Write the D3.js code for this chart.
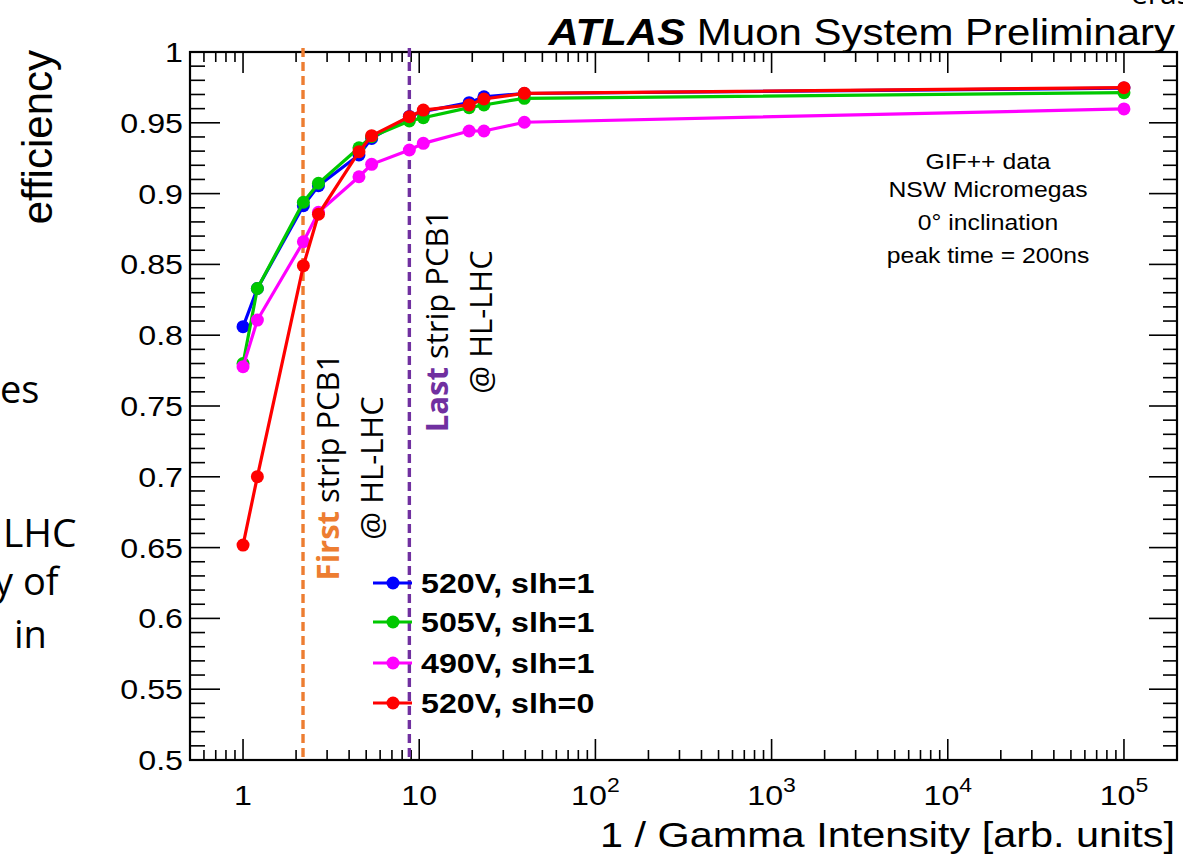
<!DOCTYPE html>
<html>
<head>
<meta charset="utf-8">
<script src="https://cdn.jsdelivr.net/npm/d3@7"></script>
<style>
  html, body { margin: 0; padding: 0; background: #fff; }
  svg { display: block; }
</style>
</head>
<body>
<script>
// Efficiency vs. 1/Gamma intensity for NSW Micromegas at GIF++
const intensity = [1, 1.206, 2.2, 2.68, 4.55, 5.37, 8.79, 10.55, 19.2, 23.3, 39.5, 1e5];
const seriesNames = ["520V, slh=1", "505V, slh=1", "490V, slh=1", "520V, slh=0"];
const seriesColors = ["#0000ff", "#00c800", "#ff00ff", "#ff0000"];
const eff520slh1 = [0.806, 0.833, 0.8915, 0.9056, 0.9273, 0.9390, 0.9545, 0.9580, 0.9642, 0.9684, 0.9707, 0.9745];
const eff505slh1 = [0.780, 0.833, 0.8939, 0.9073, 0.9324, 0.9402, 0.9513, 0.9536, 0.9607, 0.9626, 0.9673, 0.9713];
const eff490slh1 = [0.7778, 0.8107, 0.8660, 0.8868, 0.9119, 0.9207, 0.9308, 0.9355, 0.9442, 0.9442, 0.9504, 0.9598];
const eff520slh0 = [0.6518, 0.7001, 0.8491, 0.8854, 0.9296, 0.9409, 0.9543, 0.9590, 0.9626, 0.9668, 0.9708, 0.9748];
const seriesValues = [eff520slh1, eff505slh1, eff490slh1, eff520slh0];

const yTickLabels = ["0.5", "0.55", "0.6", "0.65", "0.7", "0.75", "0.8", "0.85", "0.9", "0.95", "1"];
const xDecades = [1, 10, 100, 1000, 10000, 100000];
const xTickExponents = ["", "", "2", "3", "4", "5"];
const xTickBases = ["1", "10", "10", "10", "10", "10"];

// HL-LHC rate markers (first / last strip of PCB1)
const markerPositions = [2.19, 8.79];
const markerColors = ["#ed7d31", "#7030a0"];
const markerBold = ["First", "Last"];

const infoLines = ["GIF++ data", "NSW Micromegas", "0\u00b0 inclination", "peak time = 200ns"];

(function draw() {
  const W = 1183, H = 857;
  const svg = d3.select("body").append("svg").attr("width", W).attr("height", H);
  svg.append("rect").attr("width", W).attr("height", H).attr("fill", "#fff");

  const pL = 190, pR = 1177, pT = 52, pB = 760;
  const x = d3.scaleLog().domain([0.5, 2e5]).range([pL, pR]);
  const y = d3.scaleLinear().domain([0.5, 1]).range([pB, pT]);

  const SX = 1.15; // horizontal text stretch of the plot fonts
  const sans = "'Liberation Sans', Arial, Helvetica, sans-serif";
  const slide = "'Open Sans', sans-serif";

  function stretched(g, px, py, rot) {
    return g.append("text").attr("transform",
      `translate(${px},${py}) scale(${SX},1)` + (rot ? ` rotate(${rot})` : ""));
  }

  // partial slide text at the left and top edges
  const side = svg.append("g").attr("font-family", slide).attr("font-size", 38).attr("fill", "#000");
  side.append("text").attr("x", 0).attr("y", 403).text("es");
  side.append("text").attr("x", 3).attr("y", 547).attr("font-size", 39).text("LHC");
  side.append("text").attr("x", -6).attr("y", 595).text("y of");
  side.append("text").attr("x", 14).attr("y", 648).text("in");
  side.append("text").attr("x", 1131).attr("y", 4).attr("font-size", 30).text("eras");

  // ticks
  const tickG = svg.append("g").attr("stroke", "#000").attr("stroke-width", 1.6);
  const yMinor = d3.range(50, 101).map(v => v / 100);
  yMinor.forEach((v, i) => {
    const major = i % 5 === 0;
    const yy = y(v);
    tickG.append("line").attr("x1", pL).attr("x2", pL + (major ? 30 : 15)).attr("y1", yy).attr("y2", yy);
    tickG.append("line").attr("x1", pR).attr("x2", pR - (major ? 28 : 14)).attr("y1", yy).attr("y2", yy);
  });
  const xMinor = [];
  [0.1, 1, 10, 100, 1000, 10000, 100000].forEach(d => {
    for (let k = 2; k <= 9; k++) {
      const v = d * k;
      if (v > 0.5 && v < 2e5) xMinor.push(v);
    }
  });
  xMinor.forEach(v => {
    const xx = x(v);
    tickG.append("line").attr("x1", xx).attr("x2", xx).attr("y1", pB).attr("y2", pB - 10);
    tickG.append("line").attr("x1", xx).attr("x2", xx).attr("y1", pT).attr("y2", pT + 10);
  });
  xDecades.forEach(v => {
    const xx = x(v);
    tickG.append("line").attr("x1", xx).attr("x2", xx).attr("y1", pB).attr("y2", pB - 21);
    tickG.append("line").attr("x1", xx).attr("x2", xx).attr("y1", pT).attr("y2", pT + 21);
  });

  // frame
  svg.append("rect").attr("x", pL).attr("y", pT).attr("width", pR - pL).attr("height", pB - pT)
    .attr("fill", "none").attr("stroke", "#000").attr("stroke-width", 2.2);

  // tick labels
  const labG = svg.append("g").attr("font-family", sans).attr("font-size", 28).attr("fill", "#000");
  yTickLabels.forEach(t => {
    stretched(labG, 183, y(+t), 0).attr("text-anchor", "end").attr("dy", "0.36em").text(t);
  });
  xDecades.forEach((v, i) => {
    const t = stretched(labG, x(v), 805, 0).attr("text-anchor", "middle");
    t.append("tspan").text(xTickBases[i]);
    if (xTickExponents[i]) t.append("tspan").attr("font-size", 20).attr("dy", -13).text(xTickExponents[i]);
  });

  // axis titles
  const titles = svg.append("g").attr("font-family", sans).attr("fill", "#000");
  stretched(titles, 1175, 847, 0).attr("text-anchor", "end").attr("font-size", 36)
    .text("1 / Gamma Intensity [arb. units]");
  titles.append("text").attr("transform", "translate(52,50) rotate(-90)")
    .attr("text-anchor", "end").attr("font-size", 42).text("efficiency");

  // header
  const head = stretched(titles, 1175, 45, 0).attr("text-anchor", "end").attr("font-size", 36.5);
  head.append("tspan").attr("font-weight", "bold").attr("font-style", "italic").text("ATLAS");
  head.append("tspan").text(" Muon System Preliminary");

  // info box
  infoLines.forEach((t, i) => {
    stretched(titles, 988, [169, 197, 230, 263][i], 0).attr("text-anchor", "middle")
      .attr("font-size", 21.5).text(t);
  });

  // HL-LHC dashed markers
  markerPositions.forEach((v, i) => {
    svg.append("line").attr("x1", x(v)).attr("x2", x(v)).attr("y1", 48).attr("y2", pB)
      .attr("stroke", markerColors[i]).attr("stroke-width", 3.4).attr("stroke-dasharray", "9,5");
  });

  // data series
  const line = d3.line().x(d => x(d[0])).y(d => y(d[1]));
  seriesValues.forEach((vals, s) => {
    const pts = intensity.map((v, i) => [v, vals[i]]);
    const g = svg.append("g");
    g.append("path").attr("d", line(pts)).attr("fill", "none")
      .attr("stroke", seriesColors[s]).attr("stroke-width", 3.2);
    g.selectAll("circle").data(pts).join("circle")
      .attr("cx", d => x(d[0])).attr("cy", d => y(d[1])).attr("r", 6.5)
      .attr("fill", seriesColors[s]);
  });

  // rotated annotations
  const annot = [
    { bx: 339, cy: 467, idx: 0 },
    { bx: 448, cy: 321, idx: 1 }
  ];
  annot.forEach(a => {
    const t = svg.append("text").attr("transform", `translate(${a.bx},${a.cy}) rotate(-90)`)
      .attr("text-anchor", "middle").attr("font-family", slide).attr("font-size", 31).attr("fill", "#000");
    t.append("tspan").attr("font-weight", "bold").attr("fill", markerColors[a.idx]).text(markerBold[a.idx]);
    t.append("tspan").text(" strip PCB1");
    svg.append("text").attr("transform", `translate(${a.bx + 44},${a.cy + 1}) rotate(-90)`)
      .attr("text-anchor", "middle").attr("font-family", slide).attr("font-size", 31).attr("fill", "#000")
      .text("@ HL-LHC");
  });

  // legend
  const legRows = [583, 622, 663, 703];
  seriesNames.forEach((n, i) => {
    const g = svg.append("g");
    g.append("line").attr("x1", 373).attr("x2", 412).attr("y1", legRows[i]).attr("y2", legRows[i])
      .attr("stroke", seriesColors[i]).attr("stroke-width", 3.2);
    g.append("circle").attr("cx", 393).attr("cy", legRows[i]).attr("r", 6.5).attr("fill", seriesColors[i]);
    stretched(g, 421, legRows[i] + 10, 0).attr("font-family", sans).attr("font-weight", "bold")
      .attr("font-size", 28).attr("fill", "#000").text(n);
  });
})();
</script>
</body>
</html>
